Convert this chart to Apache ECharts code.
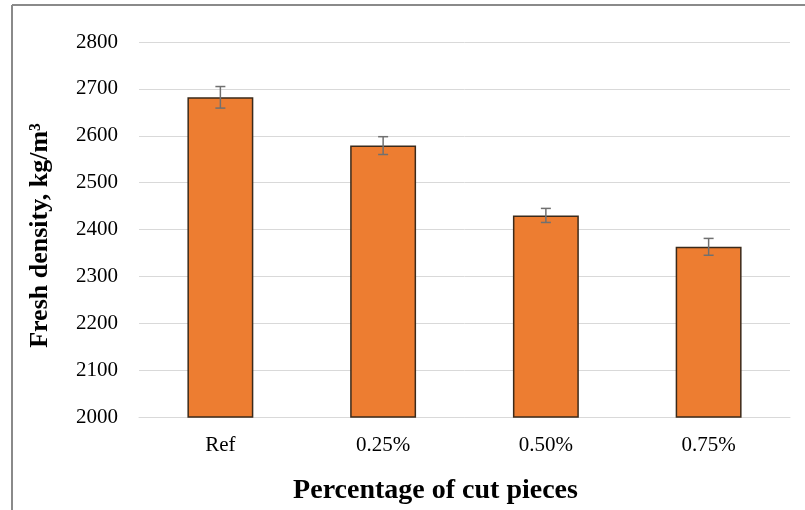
<!DOCTYPE html>
<html><head><meta charset="utf-8">
<script src="https://cdn.jsdelivr.net/npm/echarts@6/dist/echarts.min.js"></script>
<style>html,body{margin:0;padding:0;background:#fff}#c{width:805px;height:510px}</style>
</head><body><div id="c"></div>
<script>
var categories = ['Ref', '0.25%', '0.50%', '0.75%'];
var densityValues = [2682, 2579, 2430, 2363];
var errorValues = [23, 19, 15, 18];
var yTicks = [2000, 2100, 2200, 2300, 2400, 2500, 2600, 2700, 2800];

var chart = echarts.init(document.getElementById('c'), null, {renderer: 'canvas'});
var errData = categories.map(function (c, i) {
  return [i, densityValues[i] - errorValues[i], densityValues[i] + errorValues[i]];
});
var font = '"Liberation Serif", "Times New Roman", serif';
chart.setOption({
  animation: false,
  backgroundColor: '#fff',
  graphic: [
    {type: 'line', shape: {x1: 12, y1: 5, x2: 805, y2: 5}, style: {stroke: '#8a8a8a', lineWidth: 2}},
    {type: 'line', shape: {x1: 12, y1: 5, x2: 12, y2: 510}, style: {stroke: '#8a8a8a', lineWidth: 2}}
  ],
  grid: {left: 139, right: 15, top: 42, bottom: 91},
  xAxis: {
    type: 'category',
    data: categories,
    axisLine: {lineStyle: {color: '#d9d9d9', width: 1}},
    axisTick: {show: false},
    axisLabel: {color: '#000', fontFamily: font, fontSize: 21, margin: 18},
    name: 'Percentage of cut pieces',
    nameLocation: 'middle',
    nameGap: 60,
    nameTextStyle: {color: '#000', fontFamily: font, fontSize: 28, fontWeight: 'bold', padding: [0, 58, 0, 0]}
  },
  yAxis: {
    type: 'value',
    min: yTicks[0],
    max: yTicks[yTicks.length - 1],
    interval: 100,
    axisLine: {show: false},
    axisTick: {show: false},
    splitLine: {lineStyle: {color: '#d9d9d9', width: 1}},
    axisLabel: {color: '#000', fontFamily: font, fontSize: 21, margin: 21, formatter: function (v) { return String(v); }},
    name: 'Fresh density, kg/m³',
    nameLocation: 'middle',
    nameGap: 86,
    nameTextStyle: {color: '#000', fontFamily: font, fontSize: 26, fontWeight: 'bold', padding: [0, 12, 0, 0]}
  },
  series: [
    {
      type: 'bar',
      data: densityValues,
      barWidth: '40.5%',
      itemStyle: {color: '#ED7D31', borderColor: '#3b2a1a', borderWidth: 1.5}
    },
    {
      type: 'custom',
      data: errData,
      z: 10,
      renderItem: function (params, api) {
        var x = api.value(0);
        var lo = api.coord([x, api.value(1)]);
        var hi = api.coord([x, api.value(2)]);
        var hw = 5;
        var st = {stroke: '#707070', lineWidth: 1.5};
        return {
          type: 'group',
          children: [
            {type: 'line', shape: {x1: hi[0], y1: hi[1], x2: lo[0], y2: lo[1]}, style: st},
            {type: 'line', shape: {x1: hi[0] - hw, y1: hi[1], x2: hi[0] + hw, y2: hi[1]}, style: st},
            {type: 'line', shape: {x1: lo[0] - hw, y1: lo[1], x2: lo[0] + hw, y2: lo[1]}, style: st}
          ]
        };
      }
    }
  ]
});
</script></body></html>
